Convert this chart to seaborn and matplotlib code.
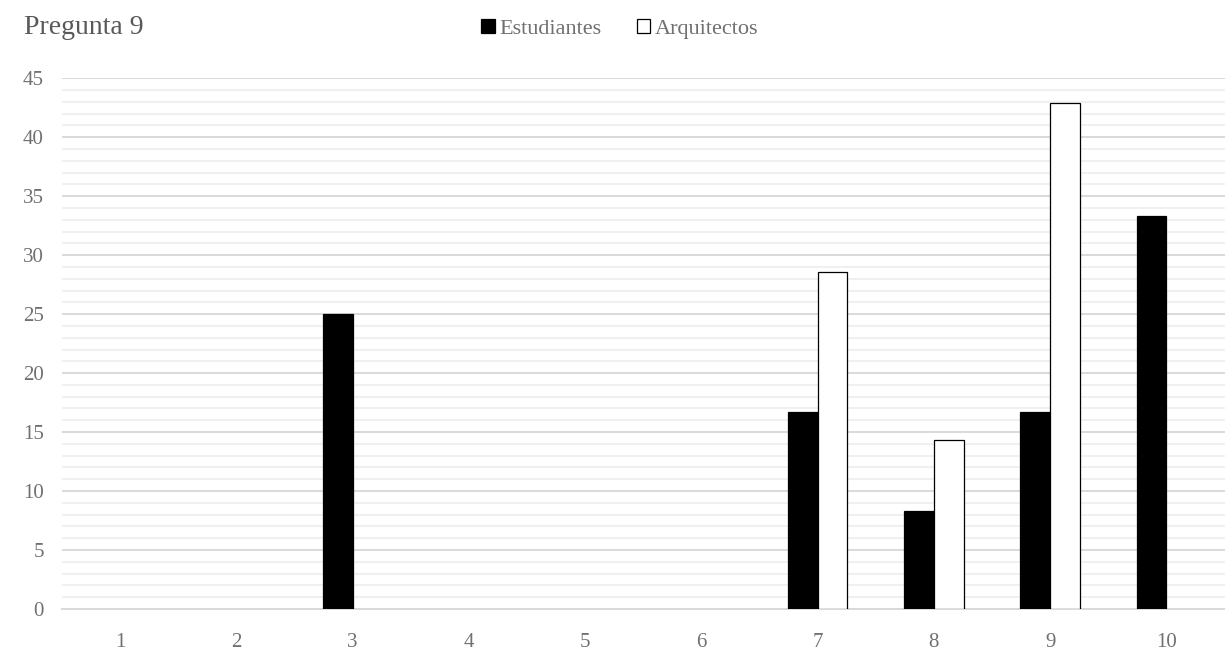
import matplotlib
matplotlib.use("Agg")
import matplotlib.pyplot as plt
import seaborn as sns
import pandas as pd
from matplotlib.ticker import MultipleLocator
from matplotlib.patches import Patch

categories = ["1", "2", "3", "4", "5", "6", "7", "8", "9", "10"]
estudiantes = [0, 0, 25.0, 0, 0, 0, 16.67, 8.33, 16.67, 33.33]
arquitectos = [0, 0, 0, 0, 0, 0, 28.57, 14.29, 42.86, 0]
series_names = ["Estudiantes", "Arquitectos"]

rows = []
for cat, e, a in zip(categories, estudiantes, arquitectos):
    if e > 0:
        rows.append({"cat": cat, "serie": series_names[0], "valor": e})
    if a > 0:
        rows.append({"cat": cat, "serie": series_names[1], "valor": a})
df = pd.DataFrame(rows)

sns.set_theme(style="white")
plt.rcParams["font.family"] = ["Liberation Serif", "DejaVu Serif"]
text_color = "#595959"
tick_color = "#707070"

fig = plt.figure(figsize=(12.25, 6.52), dpi=100)
ax = fig.add_axes([0.0506, 0.066, 0.949, 0.814])

sns.barplot(
    data=df, x="cat", y="valor", hue="serie",
    order=categories, hue_order=series_names,
    palette={"Estudiantes": "black", "Arquitectos": "white"},
    width=0.51, dodge=True, ax=ax, legend=False,
    edgecolor="black", linewidth=0.9, errorbar=None, zorder=3,
)

ax.set_ylim(0, 45)
ax.set_xlim(-0.5, len(categories) - 0.5)
ax.yaxis.set_major_locator(MultipleLocator(5))
ax.yaxis.set_minor_locator(MultipleLocator(1))
ax.grid(which="major", axis="y", color="#d9d9d9", linewidth=1.4, zorder=0)
ax.grid(which="minor", axis="y", color="#f0f0f0", linewidth=1.4, zorder=0)
ax.grid(which="major", axis="x", visible=False)
ax.set_axisbelow(True)
for s in ["top", "right", "left"]:
    ax.spines[s].set_visible(False)
ax.spines["bottom"].set_color("#d9d9d9")
ax.spines["bottom"].set_linewidth(1.4)
ax.set_xlabel("")
ax.set_ylabel("")
ax.tick_params(axis="both", which="both", length=0, labelsize=15, colors=tick_color)
ax.tick_params(axis="x", pad=17)
ax.tick_params(axis="y", pad=13)

fig.text(0.02, 0.958, "Pregunta 9", fontsize=20, color=text_color, va="center", ha="left")

handles = [
    Patch(facecolor="black", edgecolor="black", linewidth=0.9),
    Patch(facecolor="white", edgecolor="black", linewidth=0.9),
]
fig.legend(
    handles, series_names, loc="center", bbox_to_anchor=(0.506, 0.956),
    ncol=2, frameon=False, fontsize=16, labelcolor=tick_color,
    handlelength=0.6, handleheight=0.6, handletextpad=0.2, columnspacing=1.6,
)

fig.savefig("out.png", dpi=100)
